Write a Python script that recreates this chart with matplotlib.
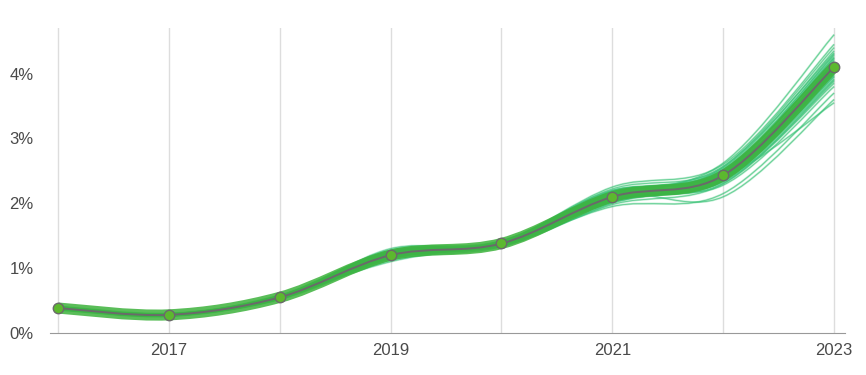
import numpy as np
import matplotlib.pyplot as plt
from matplotlib.path import Path
from matplotlib.patches import PathPatch

years = [2016, 2017, 2018, 2019, 2020, 2021, 2022, 2023]
mean_rate = [0.385, 0.28, 0.55, 1.20, 1.38, 2.10, 2.43, 4.10]

# individual simulated paths (percent)
draws = [
    [0.39, 0.28, 0.56, 1.22, 1.39, 2.12, 2.45, 4.15],
    [0.37, 0.27, 0.53, 1.17, 1.36, 2.06, 2.40, 4.02],
    [0.40, 0.29, 0.57, 1.25, 1.41, 2.18, 2.50, 4.25],
    [0.38, 0.26, 0.54, 1.15, 1.35, 2.03, 2.36, 3.95],
    [0.36, 0.28, 0.55, 1.21, 1.40, 2.14, 2.47, 4.10],
    [0.41, 0.30, 0.58, 1.28, 1.42, 2.22, 2.55, 4.35],
    [0.38, 0.27, 0.52, 1.12, 1.33, 1.98, 2.30, 3.85],
    [0.39, 0.29, 0.56, 1.24, 1.38, 2.10, 2.42, 4.05],
    [0.37, 0.28, 0.55, 1.19, 1.37, 2.09, 2.44, 4.12],
    [0.40, 0.27, 0.54, 1.18, 1.39, 2.15, 2.52, 4.20],
    [0.38, 0.28, 0.56, 1.23, 1.36, 2.05, 2.38, 4.00],
    [0.39, 0.26, 0.53, 1.20, 1.40, 2.25, 2.60, 4.45],
    [0.37, 0.29, 0.57, 1.26, 1.37, 1.95, 2.15, 3.70],
    [0.38, 0.28, 0.55, 1.21, 1.38, 2.11, 2.43, 4.08],
    [0.40, 0.28, 0.54, 1.14, 1.39, 2.20, 2.33, 3.90],
    [0.36, 0.27, 0.56, 1.27, 1.34, 2.00, 2.48, 4.30],
    [0.39, 0.29, 0.55, 1.19, 1.41, 2.16, 2.40, 3.55],
    [0.38, 0.27, 0.53, 1.16, 1.36, 2.08, 2.62, 4.60],
    [0.37, 0.28, 0.57, 1.24, 1.40, 2.13, 2.10, 3.60],
    [0.39, 0.28, 0.54, 1.20, 1.37, 2.07, 2.45, 4.18],
    [0.38, 0.29, 0.56, 1.22, 1.38, 2.12, 2.41, 4.06],
    [0.40, 0.27, 0.55, 1.18, 1.36, 2.04, 2.37, 3.98],
    [0.37, 0.28, 0.54, 1.21, 1.39, 2.11, 2.46, 4.14],
    [0.39, 0.28, 0.55, 1.23, 1.40, 2.17, 2.49, 4.22],
    [0.38, 0.27, 0.56, 1.19, 1.37, 2.09, 2.39, 4.03],
    [0.41, 0.30, 0.52, 1.30, 1.35, 2.19, 2.28, 3.80],
    [0.36, 0.26, 0.58, 1.10, 1.42, 2.02, 2.56, 4.40],
    [0.38, 0.28, 0.55, 1.22, 1.37, 2.14, 2.50, 4.24],
    [0.39, 0.27, 0.54, 1.18, 1.39, 2.06, 2.35, 3.96],
    [0.38, 0.29, 0.56, 1.21, 1.38, 2.16, 2.53, 4.28],
    [0.37, 0.28, 0.55, 1.19, 1.37, 2.04, 2.34, 3.92],
    [0.39, 0.28, 0.55, 1.23, 1.40, 2.19, 2.47, 4.16],
    [0.38, 0.27, 0.54, 1.17, 1.36, 2.01, 2.39, 4.04],
    [0.40, 0.29, 0.57, 1.25, 1.38, 2.13, 2.57, 4.32],
    [0.37, 0.28, 0.53, 1.16, 1.39, 2.08, 2.31, 3.88],
]

xtick_years = [2017, 2019, 2021, 2023]
ytick_vals = [0, 1, 2, 3, 4]
ytick_labels = ['0%', '1%', '2%', '3%', '4%']


def smooth_path(x, y):
    # catmull-rom through the points, drawn as cubic bezier segments
    p = np.column_stack([x, y]).astype(float)
    ext = np.vstack([p[0], p, p[-1]])
    verts = [p[0]]
    codes = [Path.MOVETO]
    for i in range(len(p) - 1):
        p0, p1, p2, p3 = ext[i], ext[i + 1], ext[i + 2], ext[i + 3]
        verts += [p1 + (p2 - p0) / 6, p2 - (p3 - p1) / 6, p2]
        codes += [Path.CURVE4] * 3
    return Path(verts, codes)


plt.rcParams['font.family'] = ['Liberation Sans', 'DejaVu Sans']
fig = plt.figure(figsize=(8.66, 3.75), dpi=100)
ax = fig.add_axes([0.058, 0.112, 0.918, 0.813])

for d in draws:
    ax.add_patch(PathPatch(smooth_path(years, d), fill=False,
                           edgecolor='#34c46e', lw=1.5, alpha=0.35, zorder=2))
for d in draws:
    ax.add_patch(PathPatch(smooth_path(years, d), fill=False,
                           edgecolor='#3bc27a', lw=0.6, alpha=0.7, zorder=2))
# dense core of the band
ax.add_patch(PathPatch(smooth_path(years, mean_rate), fill=False,
                       edgecolor='#3db23c', lw=8, alpha=0.85, zorder=3,
                       capstyle='butt'))
ax.add_patch(PathPatch(smooth_path(years, mean_rate), fill=False,
                       edgecolor='#6a6a6a', lw=1.4, zorder=4))
ax.plot(years, mean_rate, 'o', ms=7.5, mfc='#5cb82e', mec='#6a6a6a',
        mew=1, zorder=5, clip_on=False)

ax.set_xlim(2015.93, 2023.1)
ax.set_ylim(0, 4.7)
ax.set_xticks(years, minor=True)
ax.set_xticks(xtick_years)
ax.set_xticklabels([str(y) for y in xtick_years])
ax.set_yticks(ytick_vals)
ax.set_yticklabels(ytick_labels)
ax.grid(axis='x', which='both', color='#dddddd', lw=1, zorder=0)
ax.tick_params(which='both', length=0, labelsize=12, colors='#4a4a4a')
ax.tick_params(axis='y', pad=12)
ax.tick_params(axis='x', pad=7)
for s in ['top', 'right', 'left']:
    ax.spines[s].set_visible(False)
ax.spines['bottom'].set_color('#999999')

plt.savefig('out.png', dpi=100)
